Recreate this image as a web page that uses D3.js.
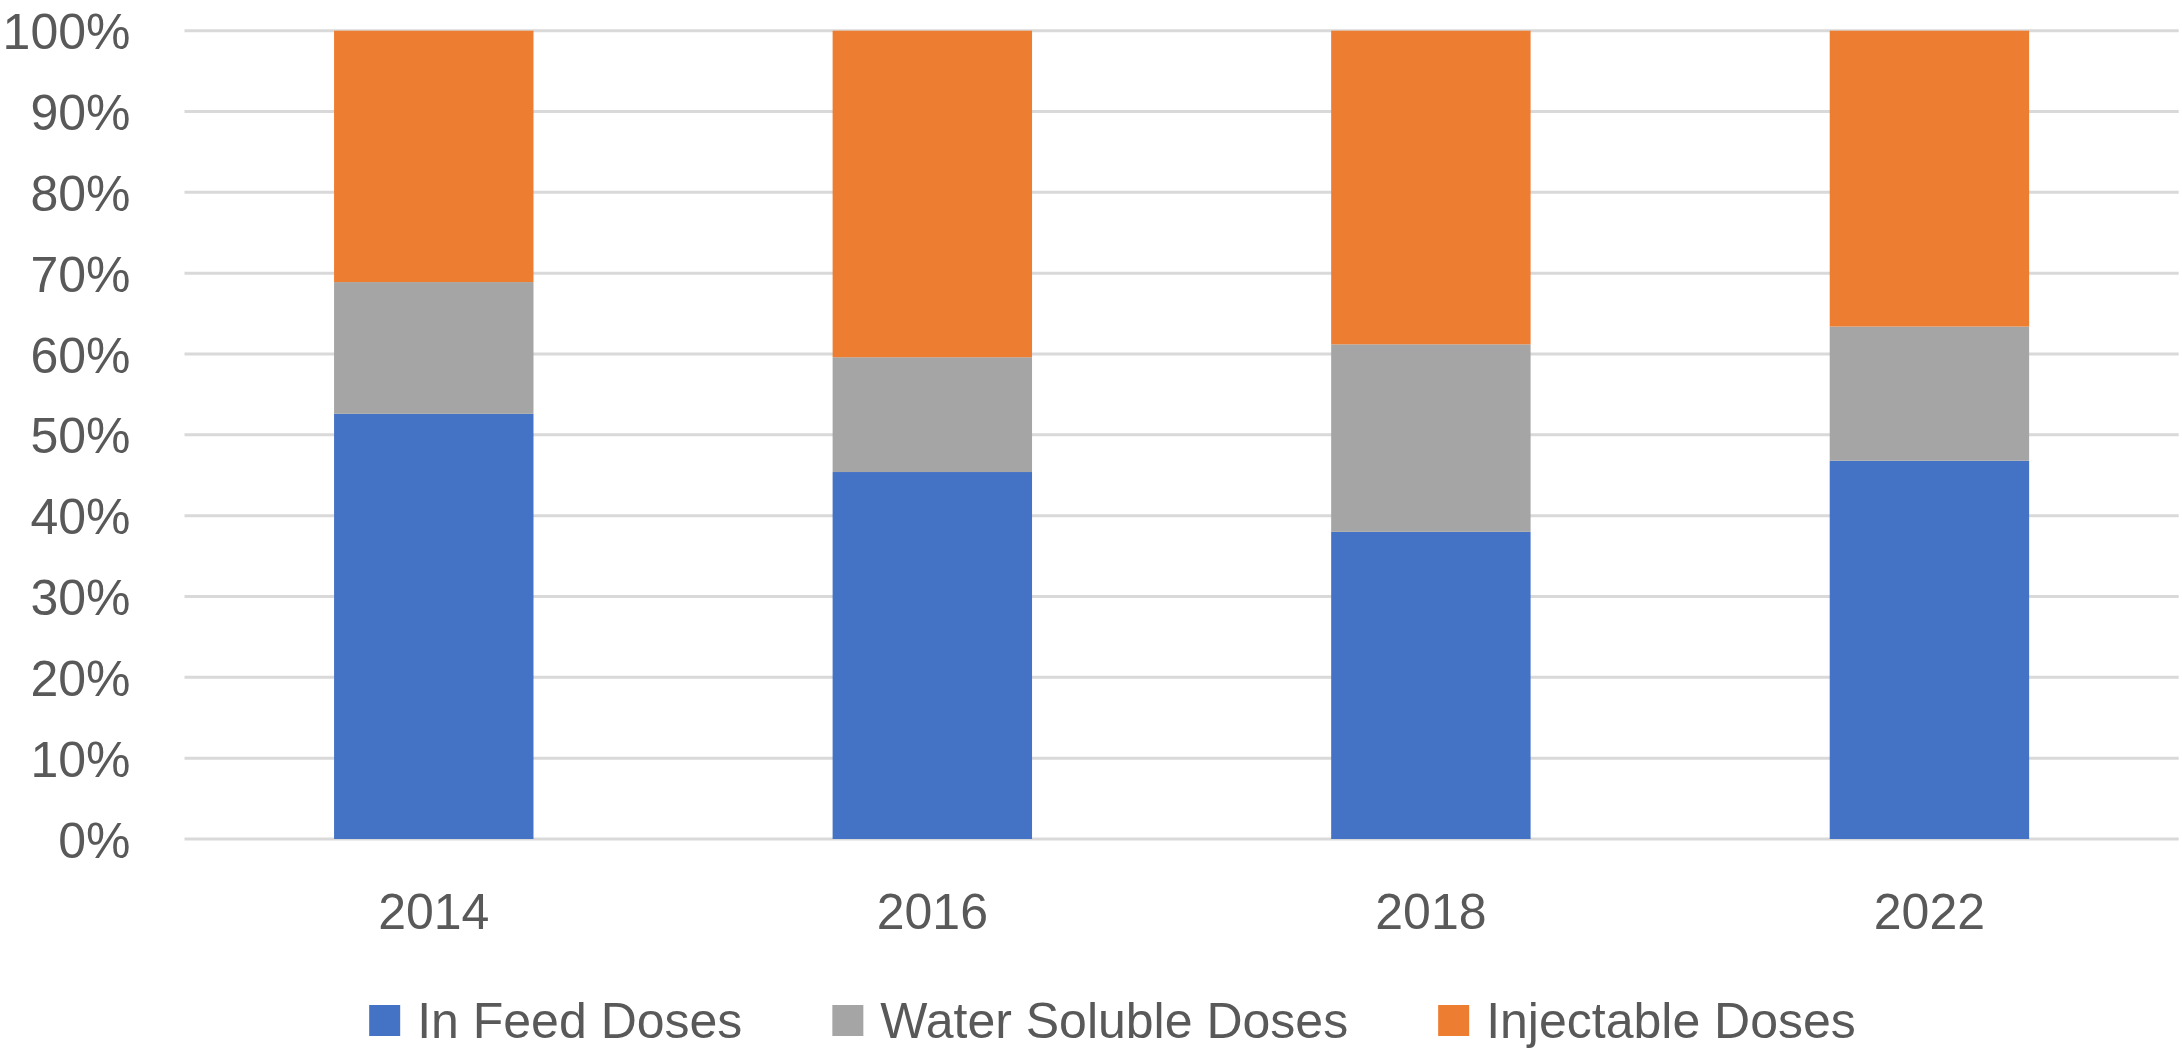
<!DOCTYPE html>
<html>
<head>
<meta charset="utf-8">
<script src="https://cdn.jsdelivr.net/npm/d3@7"></script>
<style>
  body { margin: 0; background: #fff; }
  text { font-family: "Liberation Sans", Arial, sans-serif; fill: #595959; }
</style>
</head>
<body>
<div class="visHolder"></div>
<script>
// ========================================
// Data
// ========================================
const years = ['2014', '2016', '2018', '2022'];
const inFeed = [52.6, 45.4, 38.0, 46.8];
const waterSoluble = [16.3, 14.2, 23.2, 16.6];
const injectable = [31.1, 40.4, 38.8, 36.6];
const seriesNames = ['In Feed Doses', 'Water Soluble Doses', 'Injectable Doses'];
const seriesColors = ['#4472C4', '#A5A5A5', '#ED7D31'];
const yTicks = [0, 10, 20, 30, 40, 50, 60, 70, 80, 90, 100];

// ========================================
// Dimensions
// ========================================
const
  width = 2182,
  height = 1049,
  plotLeft = 184.5,
  plotRight = 2178.7,
  plotTop = 30.7,
  plotBottom = 839,
  fontSize = 50;

const svg = d3.select('.visHolder')
  .append('svg')
    .attr('width', width)
    .attr('height', height);

// rows for d3.stack
const rows = years.map((y, i) => ({
  year: y,
  [seriesNames[0]]: inFeed[i],
  [seriesNames[1]]: waterSoluble[i],
  [seriesNames[2]]: injectable[i]
}));
const stacked = d3.stack().keys(seriesNames)(rows);

const xScale = d3.scaleBand()
  .domain(years)
  .range([plotLeft, plotRight])
  .paddingInner(0.6)
  .paddingOuter(0.3);

const yScale = d3.scaleLinear()
  .domain([0, 100])
  .range([plotBottom, plotTop]);

// gridlines
svg.append('g')
  .selectAll('line')
  .data(yTicks)
  .enter()
  .append('line')
    .attr('x1', plotLeft)
    .attr('x2', plotRight)
    .attr('y1', d => yScale(d))
    .attr('y2', d => yScale(d))
    .attr('stroke', '#d9d9d9')
    .attr('stroke-width', 3);

// y axis labels
const yAxis = svg.append('g')
  .attr('transform', 'translate(' + (plotLeft - 54) + ',0)')
  .call(d3.axisLeft(yScale).tickValues(yTicks).tickFormat(d => d + '%').tickSize(0).tickPadding(0));
yAxis.select('.domain').remove();
yAxis.selectAll('text')
  .attr('font-size', fontSize)
  .attr('font-family', null)
  .attr('dy', '0.36em');

// bars
svg.append('g')
  .selectAll('g')
  .data(stacked)
  .enter()
  .append('g')
    .attr('fill', (d, i) => seriesColors[i])
  .selectAll('rect')
  .data(d => d)
  .enter()
  .append('rect')
    .attr('x', d => xScale(d.data.year))
    .attr('width', xScale.bandwidth())
    .attr('y', d => yScale(d[1]))
    .attr('height', d => yScale(d[0]) - yScale(d[1]));

// x axis labels
const xAxis = svg.append('g')
  .attr('transform', 'translate(0,' + plotBottom + ')')
  .call(d3.axisBottom(xScale).tickSize(0).tickPadding(0));
xAxis.select('.domain').remove();
xAxis.selectAll('text')
  .attr('font-size', fontSize)
  .attr('font-family', null)
  .attr('dy', null)
  .attr('y', 929.3 - plotBottom);

// =====================
// LEGEND
// =====================
const legend = svg.append('g');
const swatch = 31, textGap = 48, itemGap = 90;
let cursor = 0;
const items = seriesNames.map((name, i) => {
  const g = legend.append('g');
  g.append('rect')
    .attr('x', 0)
    .attr('y', 1005)
    .attr('width', swatch)
    .attr('height', swatch)
    .attr('fill', seriesColors[i]);
  const t = g.append('text')
    .attr('x', textGap)
    .attr('y', 1037.5)
    .attr('font-size', fontSize)
    .text(name);
  const w = textGap + t.node().getComputedTextLength();
  g.attr('transform', 'translate(' + cursor + ',0)');
  cursor += w + itemGap;
  return g;
});
const legendWidth = cursor - itemGap;
legend.attr('transform', 'translate(' + (1112.5 - legendWidth / 2) + ',0)');
</script>
</body>
</html>
